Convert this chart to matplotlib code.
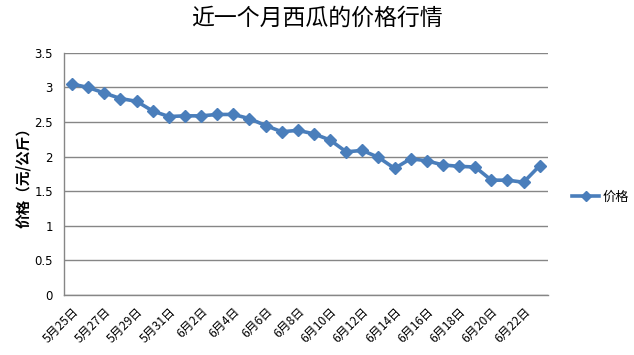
import matplotlib.pyplot as plt

plt.rcParams["font.family"] = ["Noto Sans CJK SC", "DejaVu Sans"]

# data
dates = [
    "5月25日", "5月26日", "5月27日", "5月28日", "5月29日", "5月30日", "5月31日",
    "6月1日", "6月2日", "6月3日", "6月4日", "6月5日", "6月6日", "6月7日",
    "6月8日", "6月9日", "6月10日", "6月11日", "6月12日", "6月13日", "6月14日",
    "6月15日", "6月16日", "6月17日", "6月18日", "6月19日", "6月20日", "6月21日",
    "6月22日", "6月23日",
]
prices = [
    3.05, 3.00, 2.92, 2.84, 2.80, 2.66, 2.58, 2.59, 2.59, 2.61,
    2.61, 2.55, 2.45, 2.36, 2.38, 2.33, 2.24, 2.07, 2.09, 1.99,
    1.83, 1.97, 1.94, 1.88, 1.86, 1.85, 1.66, 1.66, 1.63, 1.87,
]


def main():
    fig = plt.figure(figsize=(6.34, 3.55), dpi=100)
    ax = fig.add_axes([0.101, 0.169, 0.763, 0.682])

    x = list(range(len(dates)))
    ax.plot(x, prices, color="#4a7ebb", linewidth=2.6, marker="D",
            markersize=6, markeredgecolor="#4a7ebb", label="价格")

    ax.set_xlim(-0.5, len(dates) - 0.5)
    ax.set_ylim(0, 3.5)
    ax.set_yticks([0, 0.5, 1, 1.5, 2, 2.5, 3, 3.5])
    ax.set_yticklabels(["0", "0.5", "1", "1.5", "2", "2.5", "3", "3.5"],
                       fontsize=8.5, family=["DejaVu Sans"])
    ax.set_xticks(x[::2])
    ax.set_xticklabels(dates[::2], rotation=45, ha="right",
                       rotation_mode="anchor", fontsize=8.7)
    ax.tick_params(length=0, pad=7)
    ax.tick_params(axis="y", pad=8)

    ax.grid(axis="y", color="#868686", linewidth=1)
    ax.set_axisbelow(True)
    for side in ("top", "right"):
        ax.spines[side].set_visible(False)
    for side in ("left", "bottom"):
        ax.spines[side].set_color("#868686")
        ax.spines[side].set_linewidth(1)

    ax.set_ylabel("价格（元/公斤）", fontsize=10.5, fontweight="bold", labelpad=2)
    fig.suptitle("近一个月西瓜的价格行情", fontsize=16.5, y=0.98)

    ax.legend(loc="center left", bbox_to_anchor=(1.025, 0.405), frameon=False,
              fontsize=9.5, handlelength=2.1, handletextpad=0.2, markerscale=0.8)

    fig.savefig("out.png", dpi=100)


if __name__ == "__main__":
    main()
